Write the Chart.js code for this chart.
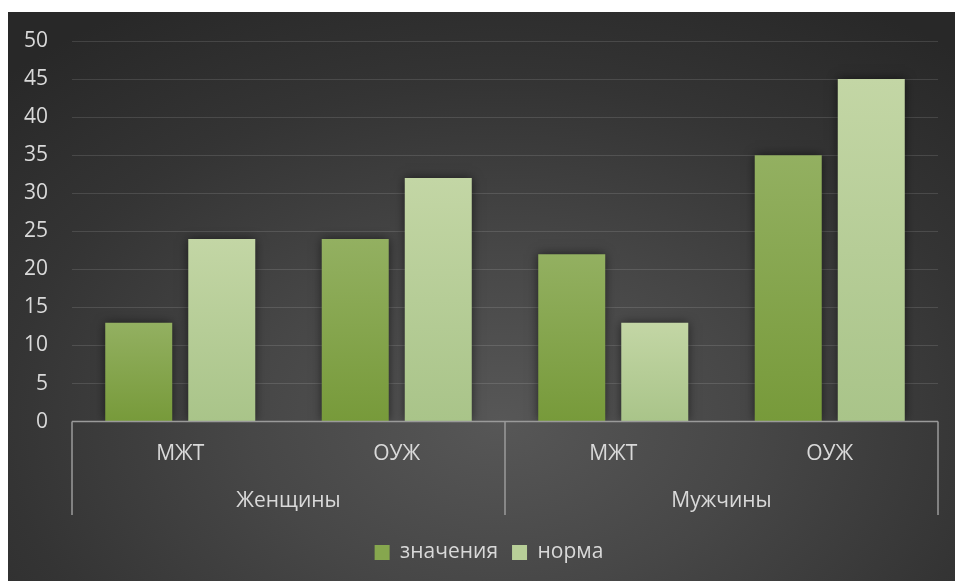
<!DOCTYPE html>
<html>
<head>
<meta charset="utf-8">
<script src="https://cdn.jsdelivr.net/npm/chart.js@4/dist/chart.umd.min.js"></script>
<style>
html, body { margin: 0; padding: 0; background: #fff; }
#wrap {
  position: absolute; left: 8px; top: 12px; width: 947px; height: 569px;
  background: radial-gradient(ellipse 75% 85% at 52% 72%, #575757 0%, #474747 35%, #343434 70%, #282828 100%);
}
</style>
</head>
<body>
<div id="wrap"><canvas id="chart" width="947" height="569"></canvas></div>
<script>
// data
var categories = ['МЖТ', 'ОУЖ', 'МЖТ', 'ОУЖ'];
var groups = ['Женщины', 'Мужчины'];
var values = [13, 24, 22, 35];
var norms = [24, 32, 13, 45];
var seriesNames = ['значения', 'норма'];
var yTicks = [0, 5, 10, 15, 20, 25, 30, 35, 40, 45, 50];

var textColor = '#d9d9d9';
var fontFamily = '"Open Sans", sans-serif';
var fontSize = 21;

function barGradient(top, bottom, solid) {
  return function(ctx) {
    var chart = ctx.chart;
    var ys = chart.scales && chart.scales.y;
    if (!ys || ctx.raw === undefined || !chart.chartArea) return solid;
    var y0 = ys.getPixelForValue(ctx.raw);
    var y1 = ys.getPixelForValue(0);
    var g = chart.ctx.createLinearGradient(0, y0, 0, y1);
    g.addColorStop(0, top);
    g.addColorStop(1, bottom);
    return g;
  };
}

// group separators below the axis
var groupLines = {
  id: 'groupLines',
  afterLayout: function(chart) {
    // legend sits a bit right of centre in the original
    chart.legend.left += 16;
    chart.legend.right += 16;
  },
  afterDraw: function(chart) {
    var c = chart.ctx, a = chart.chartArea;
    var x = chart.scales.x, x2 = chart.scales.x2;
    var mid = (x.getPixelForValue(1) + x.getPixelForValue(2)) / 2;
    c.save();
    c.strokeStyle = '#9a9a9a';
    c.lineWidth = 1.5;
    c.beginPath();
    [a.left, mid, a.right].forEach(function(px) {
      c.moveTo(px, a.bottom);
      c.lineTo(px, x2.bottom - 13);
    });
    c.moveTo(a.left, a.bottom);
    c.lineTo(a.right, a.bottom);
    c.stroke();
    c.restore();
  }
};

var shadow = {
  id: 'shadow',
  beforeDatasetsDraw: function(chart) {
    var c = chart.ctx;
    c.save();
    c.shadowColor = 'rgba(0,0,0,0.55)';
    c.shadowBlur = 10;
  },
  afterDatasetsDraw: function(chart) {
    chart.ctx.restore();
  }
};

var ctx = document.getElementById('chart');
var chart = new Chart(ctx, {
  type: 'bar',
  data: {
    labels: categories,
    datasets: [
      {
        label: seriesNames[0],
        data: values,
        backgroundColor: barGradient('#93b061', '#779a3a', '#86a74e'),
        borderWidth: 0
      },
      {
        label: seriesNames[1],
        data: norms,
        backgroundColor: barGradient('#c3d6a5', '#a9c489', '#b8cf98'),
        borderWidth: 0
      }
    ]
  },
  plugins: [shadow, groupLines],
  options: {
    responsive: false,
    animation: false,
    categoryPercentage: 0.767,
    barPercentage: 0.807,
    layout: { padding: { left: 0, right: 17, top: 0, bottom: 8 } },
    plugins: {
      legend: {
        position: 'bottom',
        labels: {
          color: textColor,
          font: { family: fontFamily, size: fontSize },
          boxWidth: 15,
          boxHeight: 15,
          padding: 14,
          generateLabels: function(chart) {
            var solids = ['#86a74e', '#b8cf98'];
            return chart.data.datasets.map(function(ds, i) {
              return { text: ds.label, fillStyle: solids[i], strokeStyle: solids[i], lineWidth: 0, datasetIndex: i, fontColor: textColor };
            });
          }
        }
      },
      tooltip: { enabled: false }
    },
    scales: {
      y: {
        min: 0,
        max: 50,
        afterBuildTicks: function(s) { s.ticks = yTicks.map(function(v) { return { value: v }; }); },
        afterFit: function(s) { s.width = 64; s.paddingTop = 29; },
        border: { display: false },
        grid: { color: 'rgba(255,255,255,0.12)', lineWidth: 1, drawTicks: false },
        ticks: { color: textColor, font: { family: fontFamily, size: fontSize }, padding: 24 }
      },
      x: {
        border: { display: false },
        grid: { display: false, drawTicks: false },
        ticks: { color: textColor, font: { family: fontFamily, size: fontSize }, padding: 20 }
      },
      x2: {
        type: 'category',
        labels: groups,
        position: 'bottom',
        offset: true,
        afterFit: function(s) { s.height += 12; },
        border: { display: false },
        grid: { display: false, drawTicks: false },
        ticks: { color: textColor, font: { family: fontFamily, size: fontSize }, padding: 2 }
      }
    }
  }
});
</script>
</body>
</html>
